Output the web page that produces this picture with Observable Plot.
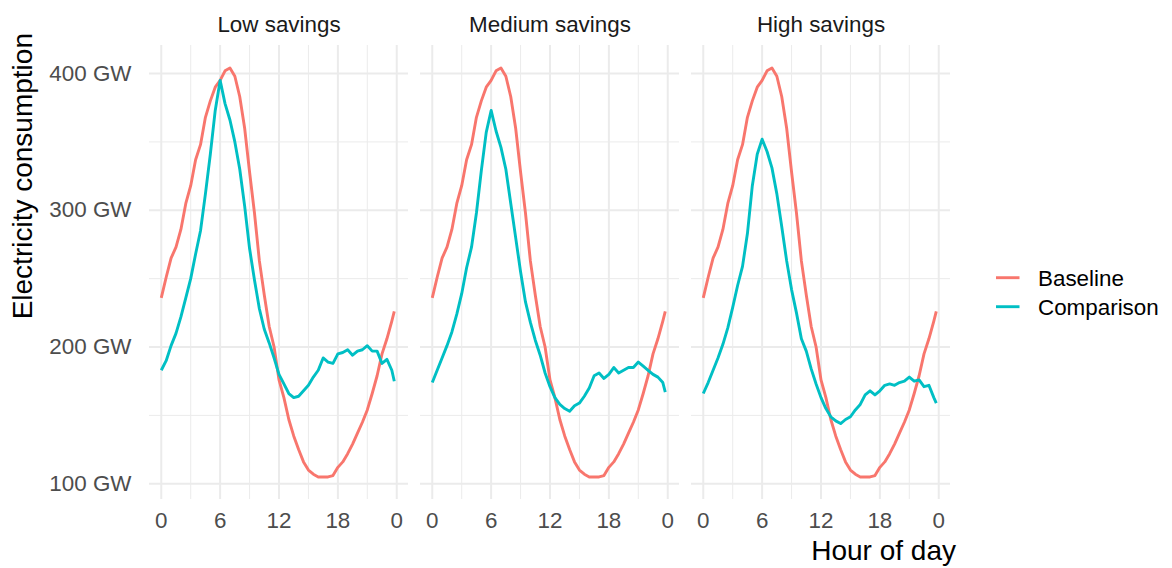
<!DOCTYPE html>
<html><head><meta charset="utf-8">
<script src="https://cdn.jsdelivr.net/npm/d3@7"></script>
<script src="https://cdn.jsdelivr.net/npm/@observablehq/plot@0.6"></script>
<style>body{margin:0;background:#fff;} svg{display:block}</style>
</head><body><div id="chart"></div>
<script>
const panels = ["Low savings", "Medium savings", "High savings"];
const seriesNames = ["Baseline", "Comparison"];
const seriesColors = ["#F8766D", "#00BFC4"];
const hours = [0,0.5,1,1.5,2,2.5,3,3.5,4,4.5,5,5.5,6,6.5,7,7.5,8,8.5,9,9.5,10,10.5,11,11.5,12,12.5,13,13.5,14,14.5,15,15.5,16,16.5,17,17.5,18,18.5,19,19.5,20,20.5,21,21.5,22,22.5,23,23.5,23.75];
const baseline = [236,251,265,273,286,305,318,337,348,368,380,390,395,402,404,398,383,360,328,298,263,238,215,200,176,163,147,135,125,116,110,107,105,105,105,106,112,116,122,129,137,145,154,166,179,195,206,219,226];
const comparisonLow = [183,190,201,210,222,236,250,268,285,312,341,373,395,378,366,350,330,303,272,249,228,213,203,192,180,173,166,163,164,168,172,178,183,192,189,188,195,196,198,194,197,198,201,197,197,188,191,183,175];
const comparisonMedium = [174,183,192,201,211,224,239,258,273,298,329,357,373,358,346,330,305,280,255,233,218,205,194,181,171,163,158,155,153,157,159,164,170,179,181,177,180,185,181,183,185,185,189,186,183,180,178,174,167];
const comparisonHigh = [166,174,183,192,202,214,229,245,259,283,318,341,352,343,331,312,288,263,242,225,206,197,184,173,163,155,149,146,144,147,149,154,158,165,168,165,168,172,173,172,174,175,178,175,176,171,172,163,159];
const xTicks = [0, 6, 12, 18, 24];
const xTickLabels = ["0", "6", "12", "18", "0"];
const xMinor = [3, 9, 15, 21];
const yTicks = [100, 200, 300, 400];
const yTickLabels = ["100 GW", "200 GW", "300 GW", "400 GW"];
const yMinor = [150, 250, 350];
const xTitle = "Hour of day";
const yTitle = "Electricity consumption";

const comparisonByPanel = {"Low savings": comparisonLow, "Medium savings": comparisonMedium, "High savings": comparisonHigh};
const rows = panels.flatMap(p => [
  ...hours.map((h, i) => ({panel: p, series: "Baseline", hour: h, value: baseline[i]})),
  ...hours.map((h, i) => ({panel: p, series: "Comparison", hour: h, value: comparisonByPanel[p][i]}))
]);

const font = "'Liberation Sans', Arial, Helvetica, sans-serif";
const grid = {stroke: "#EBEBEB", strokeOpacity: 1};

const plot = Plot.plot({
  width: 1172, height: 568,
  marginLeft: 149, marginRight: 222, marginTop: 45, marginBottom: 69,
  style: {fontFamily: font, background: "#fff", overflow: "visible"},
  fx: {domain: panels, paddingInner: 0.0453, paddingOuter: 0, label: null},
  x: {domain: [-1.2, 25.2]},
  y: {domain: [88.5, 420.5]},
  color: {domain: seriesNames, range: seriesColors},
  marks: [
    Plot.gridX(xMinor, {...grid, strokeWidth: 1}),
    Plot.gridY(yMinor, {...grid, strokeWidth: 1}),
    Plot.gridX(xTicks, {...grid, strokeWidth: 2}),
    Plot.gridY(yTicks, {...grid, strokeWidth: 2}),
    Plot.axisFx({anchor: "top", label: null, tickSize: 0, tickPadding: 14, fontSize: 22.4, fill: "#1A1A1A"}),
    Plot.axisX(xTicks, {tickSize: 0, tickPadding: 13, fontSize: 22.4, fill: "#4D4D4D", label: null,
      tickFormat: d => xTickLabels[xTicks.indexOf(d)]}),
    Plot.axisY(yTicks, {tickSize: 0, tickPadding: 18, fontSize: 22.4, fill: "#4D4D4D", label: null,
      tickFormat: d => yTickLabels[yTicks.indexOf(d)]}),
    Plot.line(rows, {fx: "panel", x: "hour", y: "value", stroke: "series", z: "series",
      strokeWidth: 2.9, strokeLinecap: "butt", strokeLinejoin: "round"})
  ]
});
document.getElementById("chart").appendChild(plot);

const svg = d3.select(plot);
const color = plot.scale("color");
svg.append("text")
  .attr("transform", "translate(32,33) rotate(-90)")
  .attr("text-anchor", "end")
  .attr("font-family", font).attr("font-size", 28).attr("fill", "#000")
  .text(yTitle);
svg.append("text")
  .attr("x", 956).attr("y", 560)
  .attr("text-anchor", "end")
  .attr("font-family", font).attr("font-size", 28).attr("fill", "#000")
  .text(xTitle);
const lg = svg.append("g");
color.domain.forEach((name, i) => {
  const y = 277.7 + i * 29;
  lg.append("line").attr("x1", 996).attr("x2", 1019.5).attr("y1", y).attr("y2", y)
    .attr("stroke", color.range[i]).attr("stroke-width", 2.9);
  lg.append("text").attr("x", 1038).attr("y", y + 8.5)
    .attr("text-anchor", "start")
    .attr("font-family", font).attr("font-size", 22.4).attr("fill", "#000")
    .text(name);
});
</script>
</body></html>
